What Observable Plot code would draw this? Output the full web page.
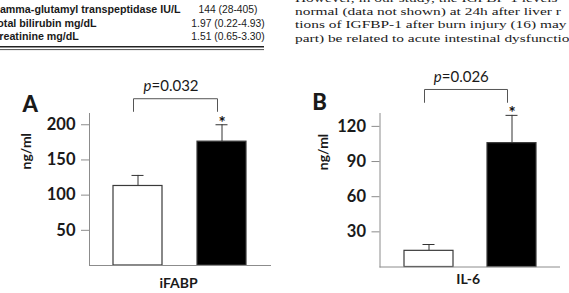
<!DOCTYPE html>
<html>
<head>
<meta charset="utf-8">
<script src="https://cdn.jsdelivr.net/npm/d3@7"></script>
<script src="https://cdn.jsdelivr.net/npm/@observablehq/plot@0.6"></script>
<style>
html, body { margin: 0; padding: 0; background: #fff; }
#root { position: relative; width: 569px; height: 293px; overflow: hidden; background: #fff; }
</style>
</head>
<body>
<div id="root"></div>
<script>
// ---- Data ----
const groups = ["Control", "Patient"];
const groupFill = ["white", "black"];
const significant = [false, true];

const ifabpMean = [113, 176];
const ifabpUpper = [128, 200];
const ifabpTicks = [50, 100, 150, 200];

const il6Mean = [13.8, 105.7];
const il6Upper = [19.2, 129.4];
const il6Ticks = [30, 60, 90, 120];

const panelLetters = ["A", "B"];
const metrics = ["iFABP", "IL-6"];
const pValues = ["0.032", "0.026"];
const yUnit = "ng/ml";
const yTops = [216, 131];
const bracketLevels = [237, 151.5];
const bracketLegEnds = [219, 140.5];

// surrounding page text (cropped table and paragraph)
const tableLabels = ["Gamma-glutamyl transpeptidase IU/L", "Total bilirubin mg/dL", "Creatinine mg/dL"];
const tableValues = ["144 (28-405)", "1.97 (0.22-4.93)", "1.51 (0.65-3.30)"];
const paragraphLines = [
  "However, in our study, the IGFBP-1 levels",
  "normal (data not shown) at 24h after liver r",
  "tions of IGFBP-1 after burn injury (16) may",
  "part) be related to acute intestinal dysfunction"
];

const root = document.getElementById("root");

// ---- page text above the figure ----
const pageSvg = d3.create("svg")
  .attr("width", 569).attr("height", 60)
  .style("position", "absolute").style("left", "0px").style("top", "0px");
const tableBase = [13.3, 26.7, 40];
tableLabels.forEach((t, i) => {
  pageSvg.append("text").attr("x", -8.4).attr("y", tableBase[i])
    .attr("font-family", "Liberation Sans, Arial, sans-serif").attr("font-weight", "bold")
    .attr("font-size", 10.7).attr("fill", "#1a1a1a").text(t);
});
tableValues.forEach((t, i) => {
  pageSvg.append("text").attr("x", 228).attr("y", tableBase[i]).attr("text-anchor", "middle")
    .attr("font-family", "Liberation Sans, Arial, sans-serif")
    .attr("font-size", 10.3).attr("fill", "#1a1a1a").text(t);
});
pageSvg.append("line").attr("x1", 0).attr("x2", 264).attr("y1", 46.8).attr("y2", 46.8)
  .attr("stroke", "#222").attr("stroke-width", 1.6);
pageSvg.append("line").attr("x1", 0).attr("x2", 264).attr("y1", 49.6).attr("y2", 49.6)
  .attr("stroke", "#222").attr("stroke-width", 0.8);
const paraG = pageSvg.append("g").attr("transform", "translate(295,0) scale(1.4,1)");
const paraBase = [1.7, 15, 28.3, 41.7];
paragraphLines.forEach((t, i) => {
  paraG.append("text").attr("x", 0).attr("y", paraBase[i])
    .attr("font-family", "Liberation Serif, Times New Roman, serif")
    .attr("font-size", 11).attr("fill", "#1a1a1a").text(t);
});
root.appendChild(pageSvg.node());

// ---- panels ----
function panel(cfg) {
  const data = groups.map((g, i) => ({group: g, value: cfg.mean[i], upper: cfg.upper[i], sig: significant[i]}));
  const bracket = [
    {group: groups[0], y: cfg.legEnd},
    {group: groups[0], y: cfg.level},
    {group: groups[1], y: cfg.level},
    {group: groups[1], y: cfg.legEnd}
  ];
  const svg = Plot.plot({
    width: cfg.width,
    height: 233,
    marginTop: 53,
    marginBottom: cfg.mb,
    marginLeft: cfg.ml,
    marginRight: cfg.mr,
    style: {background: "transparent", fontFamily: "Lato, sans-serif", color: "#1a1a1a", overflow: "visible"},
    x: {type: "band", domain: groups, paddingInner: 0.415, paddingOuter: 0.29, axis: null},
    y: {domain: [0, cfg.yTop], axis: null},
    color: {domain: groups, range: groupFill},
    marks: [
      Plot.frame({anchor: "left", stroke: "#8c8c8c"}),
      Plot.axisY(cfg.ticks, {anchor: "left", tickSize: 8, tickPadding: 6, stroke: "#8c8c8c", fill: "#1a1a1a",
        fontSize: 16.5, fontWeight: "bold", label: null}),
      Plot.ruleX(data, {x: "group", y1: "value", y2: "upper", stroke: "#333"}),
      Plot.tickY(data, {x: "group", y: "upper", insetLeft: 18.5, insetRight: 18.5, stroke: "#333"}),
      Plot.barY(data, {x: "group", y: "value", fill: "group", stroke: "#3a3a3a", strokeWidth: 1.2}),
      Plot.ruleY([0], {stroke: "#8c8c8c"}),
      Plot.line(bracket, {x: "group", y: "y", dx: -4.5, stroke: "#555", strokeWidth: 1}),
      Plot.text(data.filter(d => d.sig), {x: "group", y: "upper", text: () => "*", dy: 4,
        lineAnchor: "bottom", fontSize: 17, fontWeight: "bold", fill: "#111"}),
      Plot.text(["p"], {y: () => cfg.level, text: d => d, frameAnchor: "middle", dx: cfg.pdx, dy: -7.5,
        textAnchor: "end", lineAnchor: "bottom", fontStyle: "italic", fontSize: 15}),
      Plot.text(["=" + cfg.p], {y: () => cfg.level, text: d => d, frameAnchor: "middle", dx: cfg.pdx, dy: -7.5,
        textAnchor: "start", lineAnchor: "bottom", fontSize: 15}),
      Plot.text([cfg.letter], {text: d => d, frameAnchor: "top-left", dx: cfg.ldx, dy: cfg.ldy,
        textAnchor: "start", lineAnchor: "bottom", fontSize: 22, fontWeight: "900"}),
      Plot.text([yUnit], {text: d => d, frameAnchor: "left", rotate: -90, dx: cfg.udx, dy: -20,
        lineAnchor: "bottom", fontSize: 14, fontWeight: "bold"}),
      Plot.text([cfg.metric], {text: d => d, frameAnchor: "bottom", dx: -2, dy: cfg.mdy,
        lineAnchor: "bottom", fontSize: 14, fontWeight: "bold"})
    ]
  });
  svg.style.position = "absolute";
  svg.style.left = cfg.left + "px";
  svg.style.top = "60px";
  root.appendChild(svg);
}

panel({
  letter: panelLetters[0], metric: metrics[0], p: pValues[0],
  mean: ifabpMean, upper: ifabpUpper, ticks: ifabpTicks, yTop: yTops[0],
  level: bracketLevels[0], legEnd: bracketLegEnds[0],
  left: 0, width: 285, ml: 89, mr: 14, mb: 28,
  pdx: -29, ldx: -67, ldy: -2, udx: -58.3, mdy: 22.3
});
panel({
  letter: panelLetters[1], metric: metrics[1], p: pValues[1],
  mean: il6Mean, upper: il6Upper, ticks: il6Ticks, yTop: yTops[1],
  level: bracketLevels[1], legEnd: bracketLegEnds[1],
  left: 285, width: 284, ml: 94.5, mr: 9, mb: 26.5,
  pdx: -28.5, ldx: -67.8, ldy: -4, udx: -52.5, mdy: 16.5
});
</script>
</body>
</html>
